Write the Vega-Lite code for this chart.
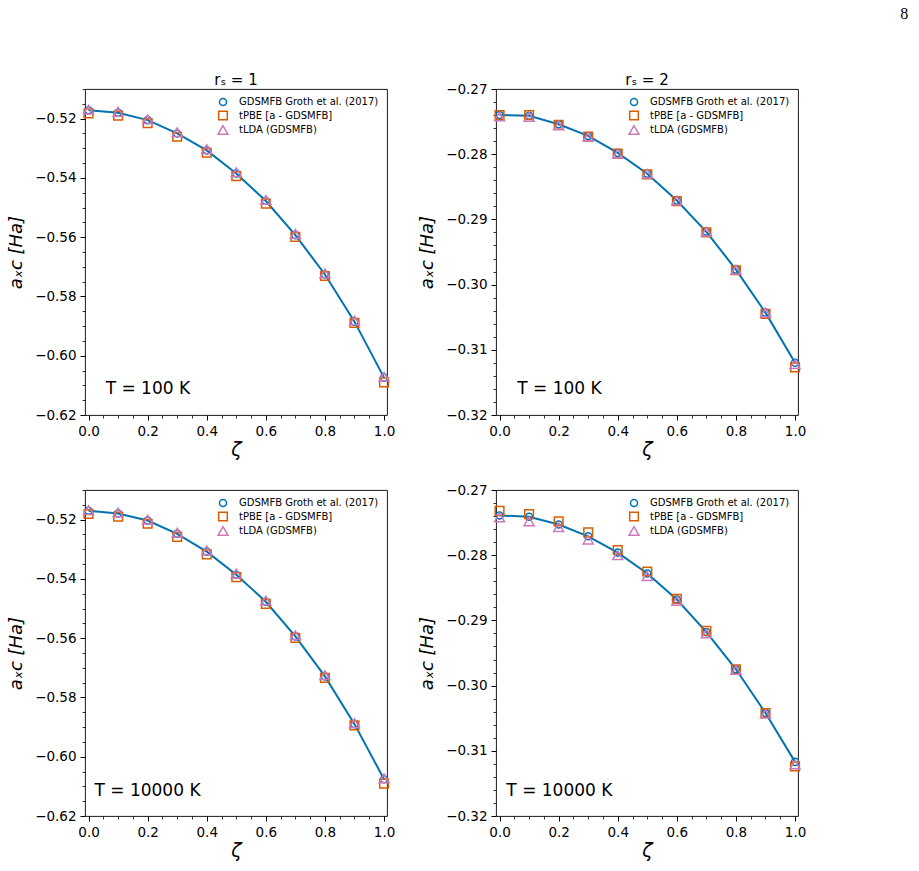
{
  "$schema": "https://vega.github.io/schema/vega-lite/v6.json",
  "background": "white",
  "padding": {"left": 6, "top": 5, "right": 5, "bottom": 5},
  "title": {"text": "8", "anchor": "end", "frame": "bounds", "font": "Liberation Serif", "fontSize": 16, "fontWeight": "normal", "color": "#000", "dx": 102, "offset": 51},
  "data": {"values": [
    {"panel": "p1", "series": "GDSMFB Groth et al. (2017)", "zeta": 0.0, "a_xc": -0.5172},
    {"panel": "p1", "series": "GDSMFB Groth et al. (2017)", "zeta": 0.1, "a_xc": -0.5180},
    {"panel": "p1", "series": "GDSMFB Groth et al. (2017)", "zeta": 0.2, "a_xc": -0.5205},
    {"panel": "p1", "series": "GDSMFB Groth et al. (2017)", "zeta": 0.3, "a_xc": -0.5250},
    {"panel": "p1", "series": "GDSMFB Groth et al. (2017)", "zeta": 0.4, "a_xc": -0.5307},
    {"panel": "p1", "series": "GDSMFB Groth et al. (2017)", "zeta": 0.5, "a_xc": -0.5385},
    {"panel": "p1", "series": "GDSMFB Groth et al. (2017)", "zeta": 0.6, "a_xc": -0.5478},
    {"panel": "p1", "series": "GDSMFB Groth et al. (2017)", "zeta": 0.7, "a_xc": -0.5593},
    {"panel": "p1", "series": "GDSMFB Groth et al. (2017)", "zeta": 0.8, "a_xc": -0.5726},
    {"panel": "p1", "series": "GDSMFB Groth et al. (2017)", "zeta": 0.9, "a_xc": -0.5885},
    {"panel": "p1", "series": "GDSMFB Groth et al. (2017)", "zeta": 1.0, "a_xc": -0.6074},
    {"panel": "p1", "series": "tPBE [a - GDSMFB]", "zeta": 0.0, "a_xc": -0.5182},
    {"panel": "p1", "series": "tPBE [a - GDSMFB]", "zeta": 0.1, "a_xc": -0.5190},
    {"panel": "p1", "series": "tPBE [a - GDSMFB]", "zeta": 0.2, "a_xc": -0.5215},
    {"panel": "p1", "series": "tPBE [a - GDSMFB]", "zeta": 0.3, "a_xc": -0.5261},
    {"panel": "p1", "series": "tPBE [a - GDSMFB]", "zeta": 0.4, "a_xc": -0.5315},
    {"panel": "p1", "series": "tPBE [a - GDSMFB]", "zeta": 0.5, "a_xc": -0.5394},
    {"panel": "p1", "series": "tPBE [a - GDSMFB]", "zeta": 0.6, "a_xc": -0.5487},
    {"panel": "p1", "series": "tPBE [a - GDSMFB]", "zeta": 0.7, "a_xc": -0.5599},
    {"panel": "p1", "series": "tPBE [a - GDSMFB]", "zeta": 0.8, "a_xc": -0.5731},
    {"panel": "p1", "series": "tPBE [a - GDSMFB]", "zeta": 0.9, "a_xc": -0.5889},
    {"panel": "p1", "series": "tPBE [a - GDSMFB]", "zeta": 1.0, "a_xc": -0.6090},
    {"panel": "p1", "series": "tLDA (GDSMFB)", "zeta": 0.0, "a_xc": -0.5170},
    {"panel": "p1", "series": "tLDA (GDSMFB)", "zeta": 0.1, "a_xc": -0.5177},
    {"panel": "p1", "series": "tLDA (GDSMFB)", "zeta": 0.2, "a_xc": -0.5202},
    {"panel": "p1", "series": "tLDA (GDSMFB)", "zeta": 0.3, "a_xc": -0.5246},
    {"panel": "p1", "series": "tLDA (GDSMFB)", "zeta": 0.4, "a_xc": -0.5303},
    {"panel": "p1", "series": "tLDA (GDSMFB)", "zeta": 0.5, "a_xc": -0.5381},
    {"panel": "p1", "series": "tLDA (GDSMFB)", "zeta": 0.6, "a_xc": -0.5474},
    {"panel": "p1", "series": "tLDA (GDSMFB)", "zeta": 0.7, "a_xc": -0.5589},
    {"panel": "p1", "series": "tLDA (GDSMFB)", "zeta": 0.8, "a_xc": -0.5722},
    {"panel": "p1", "series": "tLDA (GDSMFB)", "zeta": 0.9, "a_xc": -0.5881},
    {"panel": "p1", "series": "tLDA (GDSMFB)", "zeta": 1.0, "a_xc": -0.6071},
    {"panel": "p2", "series": "GDSMFB Groth et al. (2017)", "zeta": 0.0, "a_xc": -0.2740},
    {"panel": "p2", "series": "GDSMFB Groth et al. (2017)", "zeta": 0.1, "a_xc": -0.2741},
    {"panel": "p2", "series": "GDSMFB Groth et al. (2017)", "zeta": 0.2, "a_xc": -0.2754},
    {"panel": "p2", "series": "GDSMFB Groth et al. (2017)", "zeta": 0.3, "a_xc": -0.2772},
    {"panel": "p2", "series": "GDSMFB Groth et al. (2017)", "zeta": 0.4, "a_xc": -0.2798},
    {"panel": "p2", "series": "GDSMFB Groth et al. (2017)", "zeta": 0.5, "a_xc": -0.2830},
    {"panel": "p2", "series": "GDSMFB Groth et al. (2017)", "zeta": 0.6, "a_xc": -0.2871},
    {"panel": "p2", "series": "GDSMFB Groth et al. (2017)", "zeta": 0.7, "a_xc": -0.2919},
    {"panel": "p2", "series": "GDSMFB Groth et al. (2017)", "zeta": 0.8, "a_xc": -0.2977},
    {"panel": "p2", "series": "GDSMFB Groth et al. (2017)", "zeta": 0.9, "a_xc": -0.3043},
    {"panel": "p2", "series": "GDSMFB Groth et al. (2017)", "zeta": 1.0, "a_xc": -0.3120},
    {"panel": "p2", "series": "tPBE [a - GDSMFB]", "zeta": 0.0, "a_xc": -0.2740},
    {"panel": "p2", "series": "tPBE [a - GDSMFB]", "zeta": 0.1, "a_xc": -0.2740},
    {"panel": "p2", "series": "tPBE [a - GDSMFB]", "zeta": 0.2, "a_xc": -0.2755},
    {"panel": "p2", "series": "tPBE [a - GDSMFB]", "zeta": 0.3, "a_xc": -0.2773},
    {"panel": "p2", "series": "tPBE [a - GDSMFB]", "zeta": 0.4, "a_xc": -0.2799},
    {"panel": "p2", "series": "tPBE [a - GDSMFB]", "zeta": 0.5, "a_xc": -0.2831},
    {"panel": "p2", "series": "tPBE [a - GDSMFB]", "zeta": 0.6, "a_xc": -0.2872},
    {"panel": "p2", "series": "tPBE [a - GDSMFB]", "zeta": 0.7, "a_xc": -0.2920},
    {"panel": "p2", "series": "tPBE [a - GDSMFB]", "zeta": 0.8, "a_xc": -0.2978},
    {"panel": "p2", "series": "tPBE [a - GDSMFB]", "zeta": 0.9, "a_xc": -0.3045},
    {"panel": "p2", "series": "tPBE [a - GDSMFB]", "zeta": 1.0, "a_xc": -0.3127},
    {"panel": "p2", "series": "tLDA (GDSMFB)", "zeta": 0.0, "a_xc": -0.2742},
    {"panel": "p2", "series": "tLDA (GDSMFB)", "zeta": 0.1, "a_xc": -0.2743},
    {"panel": "p2", "series": "tLDA (GDSMFB)", "zeta": 0.2, "a_xc": -0.2756},
    {"panel": "p2", "series": "tLDA (GDSMFB)", "zeta": 0.3, "a_xc": -0.2773},
    {"panel": "p2", "series": "tLDA (GDSMFB)", "zeta": 0.4, "a_xc": -0.2799},
    {"panel": "p2", "series": "tLDA (GDSMFB)", "zeta": 0.5, "a_xc": -0.2830},
    {"panel": "p2", "series": "tLDA (GDSMFB)", "zeta": 0.6, "a_xc": -0.2871},
    {"panel": "p2", "series": "tLDA (GDSMFB)", "zeta": 0.7, "a_xc": -0.2919},
    {"panel": "p2", "series": "tLDA (GDSMFB)", "zeta": 0.8, "a_xc": -0.2977},
    {"panel": "p2", "series": "tLDA (GDSMFB)", "zeta": 0.9, "a_xc": -0.3043},
    {"panel": "p2", "series": "tLDA (GDSMFB)", "zeta": 1.0, "a_xc": -0.3122},
    {"panel": "p3", "series": "GDSMFB Groth et al. (2017)", "zeta": 0.0, "a_xc": -0.5170},
    {"panel": "p3", "series": "GDSMFB Groth et al. (2017)", "zeta": 0.1, "a_xc": -0.5179},
    {"panel": "p3", "series": "GDSMFB Groth et al. (2017)", "zeta": 0.2, "a_xc": -0.5203},
    {"panel": "p3", "series": "GDSMFB Groth et al. (2017)", "zeta": 0.3, "a_xc": -0.5248},
    {"panel": "p3", "series": "GDSMFB Groth et al. (2017)", "zeta": 0.4, "a_xc": -0.5308},
    {"panel": "p3", "series": "GDSMFB Groth et al. (2017)", "zeta": 0.5, "a_xc": -0.5386},
    {"panel": "p3", "series": "GDSMFB Groth et al. (2017)", "zeta": 0.6, "a_xc": -0.5477},
    {"panel": "p3", "series": "GDSMFB Groth et al. (2017)", "zeta": 0.7, "a_xc": -0.5594},
    {"panel": "p3", "series": "GDSMFB Groth et al. (2017)", "zeta": 0.8, "a_xc": -0.5729},
    {"panel": "p3", "series": "GDSMFB Groth et al. (2017)", "zeta": 0.9, "a_xc": -0.5890},
    {"panel": "p3", "series": "GDSMFB Groth et al. (2017)", "zeta": 1.0, "a_xc": -0.6076},
    {"panel": "p3", "series": "tPBE [a - GDSMFB]", "zeta": 0.0, "a_xc": -0.5181},
    {"panel": "p3", "series": "tPBE [a - GDSMFB]", "zeta": 0.1, "a_xc": -0.5190},
    {"panel": "p3", "series": "tPBE [a - GDSMFB]", "zeta": 0.2, "a_xc": -0.5214},
    {"panel": "p3", "series": "tPBE [a - GDSMFB]", "zeta": 0.3, "a_xc": -0.5258},
    {"panel": "p3", "series": "tPBE [a - GDSMFB]", "zeta": 0.4, "a_xc": -0.5317},
    {"panel": "p3", "series": "tPBE [a - GDSMFB]", "zeta": 0.5, "a_xc": -0.5394},
    {"panel": "p3", "series": "tPBE [a - GDSMFB]", "zeta": 0.6, "a_xc": -0.5484},
    {"panel": "p3", "series": "tPBE [a - GDSMFB]", "zeta": 0.7, "a_xc": -0.5599},
    {"panel": "p3", "series": "tPBE [a - GDSMFB]", "zeta": 0.8, "a_xc": -0.5734},
    {"panel": "p3", "series": "tPBE [a - GDSMFB]", "zeta": 0.9, "a_xc": -0.5894},
    {"panel": "p3", "series": "tPBE [a - GDSMFB]", "zeta": 1.0, "a_xc": -0.6091},
    {"panel": "p3", "series": "tLDA (GDSMFB)", "zeta": 0.0, "a_xc": -0.5168},
    {"panel": "p3", "series": "tLDA (GDSMFB)", "zeta": 0.1, "a_xc": -0.5176},
    {"panel": "p3", "series": "tLDA (GDSMFB)", "zeta": 0.2, "a_xc": -0.5200},
    {"panel": "p3", "series": "tLDA (GDSMFB)", "zeta": 0.3, "a_xc": -0.5244},
    {"panel": "p3", "series": "tLDA (GDSMFB)", "zeta": 0.4, "a_xc": -0.5304},
    {"panel": "p3", "series": "tLDA (GDSMFB)", "zeta": 0.5, "a_xc": -0.5382},
    {"panel": "p3", "series": "tLDA (GDSMFB)", "zeta": 0.6, "a_xc": -0.5473},
    {"panel": "p3", "series": "tLDA (GDSMFB)", "zeta": 0.7, "a_xc": -0.5590},
    {"panel": "p3", "series": "tLDA (GDSMFB)", "zeta": 0.8, "a_xc": -0.5725},
    {"panel": "p3", "series": "tLDA (GDSMFB)", "zeta": 0.9, "a_xc": -0.5887},
    {"panel": "p3", "series": "tLDA (GDSMFB)", "zeta": 1.0, "a_xc": -0.6073},
    {"panel": "p4", "series": "GDSMFB Groth et al. (2017)", "zeta": 0.0, "a_xc": -0.2739},
    {"panel": "p4", "series": "GDSMFB Groth et al. (2017)", "zeta": 0.1, "a_xc": -0.2741},
    {"panel": "p4", "series": "GDSMFB Groth et al. (2017)", "zeta": 0.2, "a_xc": -0.2753},
    {"panel": "p4", "series": "GDSMFB Groth et al. (2017)", "zeta": 0.3, "a_xc": -0.2771},
    {"panel": "p4", "series": "GDSMFB Groth et al. (2017)", "zeta": 0.4, "a_xc": -0.2796},
    {"panel": "p4", "series": "GDSMFB Groth et al. (2017)", "zeta": 0.5, "a_xc": -0.2828},
    {"panel": "p4", "series": "GDSMFB Groth et al. (2017)", "zeta": 0.6, "a_xc": -0.2868},
    {"panel": "p4", "series": "GDSMFB Groth et al. (2017)", "zeta": 0.7, "a_xc": -0.2918},
    {"panel": "p4", "series": "GDSMFB Groth et al. (2017)", "zeta": 0.8, "a_xc": -0.2975},
    {"panel": "p4", "series": "GDSMFB Groth et al. (2017)", "zeta": 0.9, "a_xc": -0.3042},
    {"panel": "p4", "series": "GDSMFB Groth et al. (2017)", "zeta": 1.0, "a_xc": -0.3117},
    {"panel": "p4", "series": "tPBE [a - GDSMFB]", "zeta": 0.0, "a_xc": -0.2732},
    {"panel": "p4", "series": "tPBE [a - GDSMFB]", "zeta": 0.1, "a_xc": -0.2737},
    {"panel": "p4", "series": "tPBE [a - GDSMFB]", "zeta": 0.2, "a_xc": -0.2748},
    {"panel": "p4", "series": "tPBE [a - GDSMFB]", "zeta": 0.3, "a_xc": -0.2765},
    {"panel": "p4", "series": "tPBE [a - GDSMFB]", "zeta": 0.4, "a_xc": -0.2792},
    {"panel": "p4", "series": "tPBE [a - GDSMFB]", "zeta": 0.5, "a_xc": -0.2825},
    {"panel": "p4", "series": "tPBE [a - GDSMFB]", "zeta": 0.6, "a_xc": -0.2867},
    {"panel": "p4", "series": "tPBE [a - GDSMFB]", "zeta": 0.7, "a_xc": -0.2916},
    {"panel": "p4", "series": "tPBE [a - GDSMFB]", "zeta": 0.8, "a_xc": -0.2975},
    {"panel": "p4", "series": "tPBE [a - GDSMFB]", "zeta": 0.9, "a_xc": -0.3042},
    {"panel": "p4", "series": "tPBE [a - GDSMFB]", "zeta": 1.0, "a_xc": -0.3124},
    {"panel": "p4", "series": "tLDA (GDSMFB)", "zeta": 0.0, "a_xc": -0.2742},
    {"panel": "p4", "series": "tLDA (GDSMFB)", "zeta": 0.1, "a_xc": -0.2748},
    {"panel": "p4", "series": "tLDA (GDSMFB)", "zeta": 0.2, "a_xc": -0.2757},
    {"panel": "p4", "series": "tLDA (GDSMFB)", "zeta": 0.3, "a_xc": -0.2776},
    {"panel": "p4", "series": "tLDA (GDSMFB)", "zeta": 0.4, "a_xc": -0.2800},
    {"panel": "p4", "series": "tLDA (GDSMFB)", "zeta": 0.5, "a_xc": -0.2832},
    {"panel": "p4", "series": "tLDA (GDSMFB)", "zeta": 0.6, "a_xc": -0.2870},
    {"panel": "p4", "series": "tLDA (GDSMFB)", "zeta": 0.7, "a_xc": -0.2920},
    {"panel": "p4", "series": "tLDA (GDSMFB)", "zeta": 0.8, "a_xc": -0.2976},
    {"panel": "p4", "series": "tLDA (GDSMFB)", "zeta": 0.9, "a_xc": -0.3043},
    {"panel": "p4", "series": "tLDA (GDSMFB)", "zeta": 1.0, "a_xc": -0.3121}
  ]},
  "spacing": 22,
  "resolve": {"scale": {"shape": "independent", "color": "independent", "size": "independent"}, "legend": {"shape": "independent", "color": "independent"}},
  "vconcat": [
    {
      "spacing": 21,
      "resolve": {"scale": {"shape": "independent", "color": "independent", "size": "independent"}, "legend": {"shape": "independent", "color": "independent"}},
      "hconcat": [
        {
          "width": 302, "height": 326,
          "title": {"text": "rₛ = 1", "fontSize": 15, "offset": -6},
          "layer": [
            {"transform": [{"filter": "datum.panel == 'p1' && datum.series == 'GDSMFB Groth et al. (2017)'"}],
             "mark": {"type": "line", "color": "#0173b2", "strokeWidth": 2},
             "encoding": {
               "x": {"field": "zeta", "type": "quantitative", "scale": {"domain": [-0.012, 1.01], "nice": false, "zero": false},
                     "axis": {"values": [0,0.05,0.1,0.15,0.2,0.25,0.3,0.35,0.4,0.45,0.5,0.55,0.6,0.65,0.7,0.75,0.8,0.85,0.9,0.95,1], "tickCount": 200, "format": ".1f", "labelOverlap": false, "labelExpr": "abs(datum.value*5-round(datum.value*5))<0.01 ? datum.label : ''", "tickSize": {"condition": {"test": "abs(datum.value*5-round(datum.value*5))<0.01", "value": 5}, "value": 3}, "tickWidth": {"condition": {"test": "abs(datum.value*5-round(datum.value*5))<0.01", "value": 1}, "value": 0.8}, "title": "ζ", "titleFontSize": 19, "titleFontStyle": "italic", "titlePadding": 3}},
               "y": {"field": "a_xc", "type": "quantitative", "scale": {"domain": [-0.62, -0.51], "nice": false, "zero": false},
                     "axis": {"values": [-0.62,-0.615,-0.61,-0.605,-0.6,-0.595,-0.59,-0.585,-0.58,-0.575,-0.57,-0.565,-0.56,-0.555,-0.55,-0.545,-0.54,-0.535,-0.53,-0.525,-0.52,-0.515,-0.51], "tickCount": 200, "format": ".2f", "labelOverlap": false, "labelExpr": "abs(datum.value*50-round(datum.value*50))<0.01 ? datum.label : ''", "tickSize": {"condition": {"test": "abs(datum.value*50-round(datum.value*50))<0.01", "value": 5}, "value": 3}, "tickWidth": {"condition": {"test": "abs(datum.value*50-round(datum.value*50))<0.01", "value": 1}, "value": 0.8}, "title": "aₓc [Ha]", "titleFontSize": 18, "titleFontStyle": "italic", "titlePadding": 8, "minExtent": 52, "maxExtent": 52}}
             }},
            {"transform": [{"filter": "datum.panel == 'p1'"}],
             "mark": {"type": "point", "filled": false, "strokeWidth": 1.5, "opacity": 1},
             "encoding": {
               "x": {"field": "zeta", "type": "quantitative"},
               "y": {"field": "a_xc", "type": "quantitative"},
               "shape": {"field": "series", "type": "nominal", "scale": {"domain": ["GDSMFB Groth et al. (2017)", "tPBE [a - GDSMFB]", "tLDA (GDSMFB)"], "range": ["circle", "square", "triangle-up"]}, "legend": {"title": null}},
               "color": {"field": "series", "type": "nominal", "scale": {"domain": ["GDSMFB Groth et al. (2017)", "tPBE [a - GDSMFB]", "tLDA (GDSMFB)"], "range": ["#0173b2", "#d55e00", "#cc78bc"]}, "legend": {"title": null}},
               "size": {"field": "series", "type": "nominal", "scale": {"domain": ["GDSMFB Groth et al. (2017)", "tPBE [a - GDSMFB]", "tLDA (GDSMFB)"], "range": [50, 100, 75]}, "legend": null}
             }},
            {"data": {"values": [{}]},
             "mark": {"type": "text", "align": "left", "baseline": "middle", "fontSize": 17},
             "encoding": {"x": {"datum": 0.058}, "y": {"datum": -0.6112}, "text": {"value": "T = 100 K"}}}
          ]
        },
        {
          "width": 302, "height": 326,
          "title": {"text": "rₛ = 2", "fontSize": 15, "offset": -6},
          "layer": [
            {"transform": [{"filter": "datum.panel == 'p2' && datum.series == 'GDSMFB Groth et al. (2017)'"}],
             "mark": {"type": "line", "color": "#0173b2", "strokeWidth": 2},
             "encoding": {
               "x": {"field": "zeta", "type": "quantitative", "scale": {"domain": [-0.012, 1.01], "nice": false, "zero": false},
                     "axis": {"values": [0,0.05,0.1,0.15,0.2,0.25,0.3,0.35,0.4,0.45,0.5,0.55,0.6,0.65,0.7,0.75,0.8,0.85,0.9,0.95,1], "tickCount": 200, "format": ".1f", "labelOverlap": false, "labelExpr": "abs(datum.value*5-round(datum.value*5))<0.01 ? datum.label : ''", "tickSize": {"condition": {"test": "abs(datum.value*5-round(datum.value*5))<0.01", "value": 5}, "value": 3}, "tickWidth": {"condition": {"test": "abs(datum.value*5-round(datum.value*5))<0.01", "value": 1}, "value": 0.8}, "title": "ζ", "titleFontSize": 19, "titleFontStyle": "italic", "titlePadding": 3}},
               "y": {"field": "a_xc", "type": "quantitative", "scale": {"domain": [-0.32, -0.27], "nice": false, "zero": false},
                     "axis": {"values": [-0.32,-0.318,-0.316,-0.314,-0.312,-0.31,-0.308,-0.306,-0.304,-0.302,-0.3,-0.298,-0.296,-0.294,-0.292,-0.29,-0.288,-0.286,-0.284,-0.282,-0.28,-0.278,-0.276,-0.274,-0.272,-0.27], "tickCount": 200, "format": ".2f", "labelOverlap": false, "labelExpr": "abs(datum.value*100-round(datum.value*100))<0.01 ? datum.label : ''", "tickSize": {"condition": {"test": "abs(datum.value*100-round(datum.value*100))<0.01", "value": 5}, "value": 3}, "tickWidth": {"condition": {"test": "abs(datum.value*100-round(datum.value*100))<0.01", "value": 1}, "value": 0.8}, "title": "aₓc [Ha]", "titleFontSize": 18, "titleFontStyle": "italic", "titlePadding": 8, "minExtent": 52, "maxExtent": 52}}
             }},
            {"transform": [{"filter": "datum.panel == 'p2'"}],
             "mark": {"type": "point", "filled": false, "strokeWidth": 1.5, "opacity": 1},
             "encoding": {
               "x": {"field": "zeta", "type": "quantitative"},
               "y": {"field": "a_xc", "type": "quantitative"},
               "shape": {"field": "series", "type": "nominal", "scale": {"domain": ["GDSMFB Groth et al. (2017)", "tPBE [a - GDSMFB]", "tLDA (GDSMFB)"], "range": ["circle", "square", "triangle-up"]}, "legend": {"title": null}},
               "color": {"field": "series", "type": "nominal", "scale": {"domain": ["GDSMFB Groth et al. (2017)", "tPBE [a - GDSMFB]", "tLDA (GDSMFB)"], "range": ["#0173b2", "#d55e00", "#cc78bc"]}, "legend": {"title": null}},
               "size": {"field": "series", "type": "nominal", "scale": {"domain": ["GDSMFB Groth et al. (2017)", "tPBE [a - GDSMFB]", "tLDA (GDSMFB)"], "range": [50, 100, 75]}, "legend": null}
             }},
            {"data": {"values": [{}]},
             "mark": {"type": "text", "align": "left", "baseline": "middle", "fontSize": 17},
             "encoding": {"x": {"datum": 0.06}, "y": {"datum": -0.316}, "text": {"value": "T = 100 K"}}}
          ]
        }
      ]
    },
    {
      "spacing": 21,
      "resolve": {"scale": {"shape": "independent", "color": "independent", "size": "independent"}, "legend": {"shape": "independent", "color": "independent"}},
      "hconcat": [
        {
          "width": 302, "height": 326,
          "layer": [
            {"transform": [{"filter": "datum.panel == 'p3' && datum.series == 'GDSMFB Groth et al. (2017)'"}],
             "mark": {"type": "line", "color": "#0173b2", "strokeWidth": 2},
             "encoding": {
               "x": {"field": "zeta", "type": "quantitative", "scale": {"domain": [-0.012, 1.01], "nice": false, "zero": false},
                     "axis": {"values": [0,0.05,0.1,0.15,0.2,0.25,0.3,0.35,0.4,0.45,0.5,0.55,0.6,0.65,0.7,0.75,0.8,0.85,0.9,0.95,1], "tickCount": 200, "format": ".1f", "labelOverlap": false, "labelExpr": "abs(datum.value*5-round(datum.value*5))<0.01 ? datum.label : ''", "tickSize": {"condition": {"test": "abs(datum.value*5-round(datum.value*5))<0.01", "value": 5}, "value": 3}, "tickWidth": {"condition": {"test": "abs(datum.value*5-round(datum.value*5))<0.01", "value": 1}, "value": 0.8}, "title": "ζ", "titleFontSize": 19, "titleFontStyle": "italic", "titlePadding": 3}},
               "y": {"field": "a_xc", "type": "quantitative", "scale": {"domain": [-0.62, -0.51], "nice": false, "zero": false},
                     "axis": {"values": [-0.62,-0.615,-0.61,-0.605,-0.6,-0.595,-0.59,-0.585,-0.58,-0.575,-0.57,-0.565,-0.56,-0.555,-0.55,-0.545,-0.54,-0.535,-0.53,-0.525,-0.52,-0.515,-0.51], "tickCount": 200, "format": ".2f", "labelOverlap": false, "labelExpr": "abs(datum.value*50-round(datum.value*50))<0.01 ? datum.label : ''", "tickSize": {"condition": {"test": "abs(datum.value*50-round(datum.value*50))<0.01", "value": 5}, "value": 3}, "tickWidth": {"condition": {"test": "abs(datum.value*50-round(datum.value*50))<0.01", "value": 1}, "value": 0.8}, "title": "aₓc [Ha]", "titleFontSize": 18, "titleFontStyle": "italic", "titlePadding": 8, "minExtent": 52, "maxExtent": 52}}
             }},
            {"transform": [{"filter": "datum.panel == 'p3'"}],
             "mark": {"type": "point", "filled": false, "strokeWidth": 1.5, "opacity": 1},
             "encoding": {
               "x": {"field": "zeta", "type": "quantitative"},
               "y": {"field": "a_xc", "type": "quantitative"},
               "shape": {"field": "series", "type": "nominal", "scale": {"domain": ["GDSMFB Groth et al. (2017)", "tPBE [a - GDSMFB]", "tLDA (GDSMFB)"], "range": ["circle", "square", "triangle-up"]}, "legend": {"title": null}},
               "color": {"field": "series", "type": "nominal", "scale": {"domain": ["GDSMFB Groth et al. (2017)", "tPBE [a - GDSMFB]", "tLDA (GDSMFB)"], "range": ["#0173b2", "#d55e00", "#cc78bc"]}, "legend": {"title": null}},
               "size": {"field": "series", "type": "nominal", "scale": {"domain": ["GDSMFB Groth et al. (2017)", "tPBE [a - GDSMFB]", "tLDA (GDSMFB)"], "range": [50, 100, 75]}, "legend": null}
             }},
            {"data": {"values": [{}]},
             "mark": {"type": "text", "align": "left", "baseline": "middle", "fontSize": 17},
             "encoding": {"x": {"datum": 0.02}, "y": {"datum": -0.6116}, "text": {"value": "T = 10000 K"}}}
          ]
        },
        {
          "width": 302, "height": 326,
          "layer": [
            {"transform": [{"filter": "datum.panel == 'p4' && datum.series == 'GDSMFB Groth et al. (2017)'"}],
             "mark": {"type": "line", "color": "#0173b2", "strokeWidth": 2},
             "encoding": {
               "x": {"field": "zeta", "type": "quantitative", "scale": {"domain": [-0.012, 1.01], "nice": false, "zero": false},
                     "axis": {"values": [0,0.05,0.1,0.15,0.2,0.25,0.3,0.35,0.4,0.45,0.5,0.55,0.6,0.65,0.7,0.75,0.8,0.85,0.9,0.95,1], "tickCount": 200, "format": ".1f", "labelOverlap": false, "labelExpr": "abs(datum.value*5-round(datum.value*5))<0.01 ? datum.label : ''", "tickSize": {"condition": {"test": "abs(datum.value*5-round(datum.value*5))<0.01", "value": 5}, "value": 3}, "tickWidth": {"condition": {"test": "abs(datum.value*5-round(datum.value*5))<0.01", "value": 1}, "value": 0.8}, "title": "ζ", "titleFontSize": 19, "titleFontStyle": "italic", "titlePadding": 3}},
               "y": {"field": "a_xc", "type": "quantitative", "scale": {"domain": [-0.32, -0.27], "nice": false, "zero": false},
                     "axis": {"values": [-0.32,-0.318,-0.316,-0.314,-0.312,-0.31,-0.308,-0.306,-0.304,-0.302,-0.3,-0.298,-0.296,-0.294,-0.292,-0.29,-0.288,-0.286,-0.284,-0.282,-0.28,-0.278,-0.276,-0.274,-0.272,-0.27], "tickCount": 200, "format": ".2f", "labelOverlap": false, "labelExpr": "abs(datum.value*100-round(datum.value*100))<0.01 ? datum.label : ''", "tickSize": {"condition": {"test": "abs(datum.value*100-round(datum.value*100))<0.01", "value": 5}, "value": 3}, "tickWidth": {"condition": {"test": "abs(datum.value*100-round(datum.value*100))<0.01", "value": 1}, "value": 0.8}, "title": "aₓc [Ha]", "titleFontSize": 18, "titleFontStyle": "italic", "titlePadding": 8, "minExtent": 52, "maxExtent": 52}}
             }},
            {"transform": [{"filter": "datum.panel == 'p4'"}],
             "mark": {"type": "point", "filled": false, "strokeWidth": 1.5, "opacity": 1},
             "encoding": {
               "x": {"field": "zeta", "type": "quantitative"},
               "y": {"field": "a_xc", "type": "quantitative"},
               "shape": {"field": "series", "type": "nominal", "scale": {"domain": ["GDSMFB Groth et al. (2017)", "tPBE [a - GDSMFB]", "tLDA (GDSMFB)"], "range": ["circle", "square", "triangle-up"]}, "legend": {"title": null}},
               "color": {"field": "series", "type": "nominal", "scale": {"domain": ["GDSMFB Groth et al. (2017)", "tPBE [a - GDSMFB]", "tLDA (GDSMFB)"], "range": ["#0173b2", "#d55e00", "#cc78bc"]}, "legend": {"title": null}},
               "size": {"field": "series", "type": "nominal", "scale": {"domain": ["GDSMFB Groth et al. (2017)", "tPBE [a - GDSMFB]", "tLDA (GDSMFB)"], "range": [50, 100, 75]}, "legend": null}
             }},
            {"data": {"values": [{}]},
             "mark": {"type": "text", "align": "left", "baseline": "middle", "fontSize": 17},
             "encoding": {"x": {"datum": 0.023}, "y": {"datum": -0.3162}, "text": {"value": "T = 10000 K"}}}
          ]
        }
      ]
    }
  ],
  "config": {
    "font": "DejaVu Sans",
    "view": {"stroke": "#000", "strokeWidth": 0.9},
    "axis": {"domain": false, "grid": false, "labelFont": "DejaVu Sans", "labelFontSize": 13.5, "labelColor": "#000", "tickColor": "#000", "titleFont": "DejaVu Sans", "titleColor": "#000", "titleFontWeight": "normal", "labelOverlap": false, "labelFlush": false, "labelPadding": 4},
    "legend": {"orient": "top-right", "offset": 8, "labelFont": "DejaVu Sans", "labelFontSize": 10, "labelColor": "#000", "symbolSize": 50, "symbolStrokeWidth": 1.5, "labelOffset": 10, "rowPadding": -1, "labelLimit": 300},
    "title": {"font": "DejaVu Sans", "fontWeight": "normal", "color": "#000"},
    "text": {"font": "DejaVu Sans", "color": "#000"}
  }
}
